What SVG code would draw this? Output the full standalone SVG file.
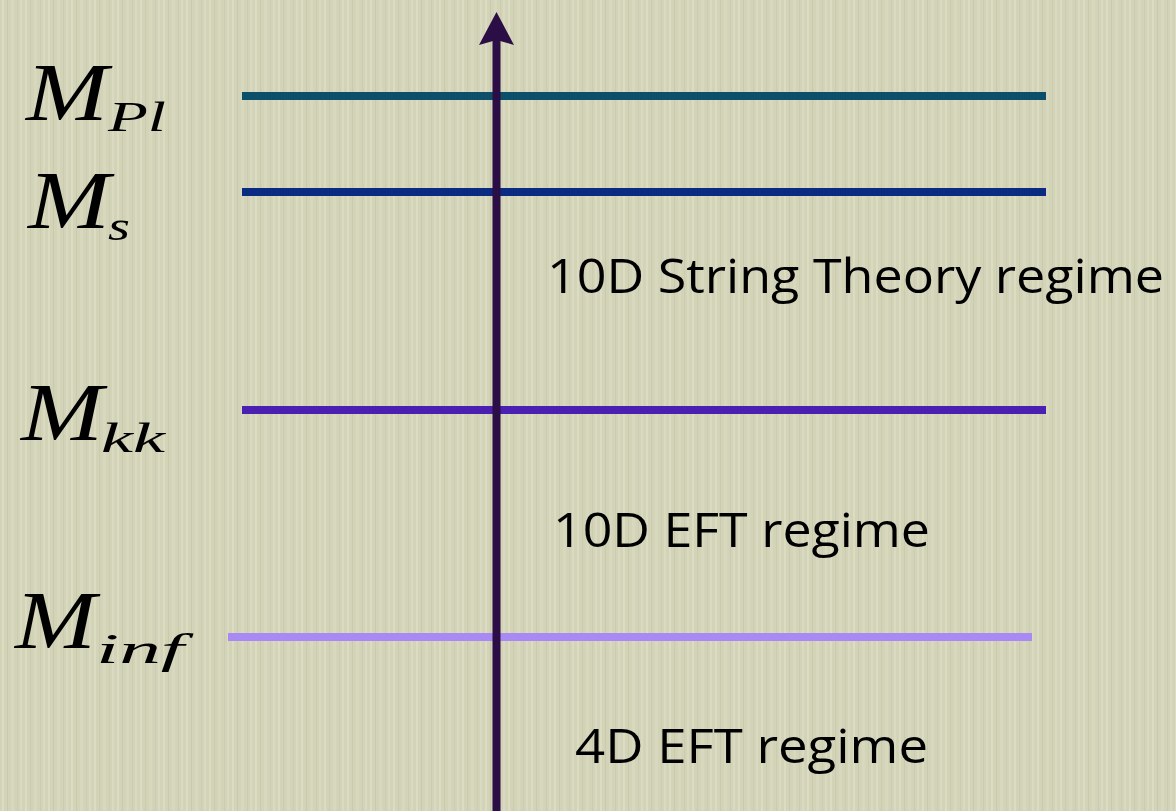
<svg xmlns="http://www.w3.org/2000/svg" width="1176" height="811" viewBox="0 0 1176 811">
  <defs>
    <pattern id="tex" x="0" y="0" width="23" height="811" patternUnits="userSpaceOnUse">
      <rect width="23" height="811" fill="#d3d3b8"/>
      <rect x="2" width="2" height="811" fill="#e0e0c8" opacity="0.7"/>
      <rect x="7" width="1" height="811" fill="#c4c4a8" opacity="0.6"/>
      <rect x="11" width="3" height="811" fill="#dcdcc3" opacity="0.6"/>
      <rect x="17" width="1" height="811" fill="#c6c6ab" opacity="0.5"/>
      <rect x="20" width="2" height="811" fill="#e2e2cb" opacity="0.5"/>
    </pattern>
    <style>
      .lvl { stroke-width: 8; fill: none; }
      .m { font-family: "Liberation Serif", "DejaVu Serif", serif; font-style: italic; fill: #000; }
      .big { font-size: 82px; }
      .sub { font-size: 42px; }
      .lab { font-family: "Open Sans", "Lato", sans-serif; font-size: 48px; fill: #000; }
    </style>
  </defs>
  <rect width="1176" height="811" fill="url(#tex)"/>

  <g id="level-Mpl">
    <line class="lvl" x1="242" y1="96" x2="1046" y2="96" stroke="#0b4f6a"/>
    <text class="m big" x="26" y="120" textLength="82" lengthAdjust="spacingAndGlyphs">M</text>
    <text class="m sub" x="108" y="131" textLength="58" lengthAdjust="spacingAndGlyphs">Pl</text>
  </g>
  <g id="level-Ms">
    <line class="lvl" x1="242" y1="192" x2="1046" y2="192" stroke="#0b2b82"/>
    <text class="m big" x="28" y="228" textLength="82" lengthAdjust="spacingAndGlyphs">M</text>
    <text class="m sub" x="108" y="240" textLength="22" lengthAdjust="spacingAndGlyphs">s</text>
  </g>
  <g id="level-Mkk">
    <line class="lvl" x1="242" y1="410" x2="1046" y2="410" stroke="#4a1fb2"/>
    <text class="m big" x="21" y="440" textLength="82" lengthAdjust="spacingAndGlyphs">M</text>
    <text class="m sub" x="101" y="452" textLength="64" lengthAdjust="spacingAndGlyphs">kk</text>
  </g>
  <g id="level-Minf">
    <line class="lvl" x1="228" y1="637" x2="1032" y2="637" stroke="#a98af4"/>
    <text class="m big" x="15" y="648" textLength="81" lengthAdjust="spacingAndGlyphs">M</text>
    <text class="m sub" x="96" y="663" textLength="88" lengthAdjust="spacingAndGlyphs">inf</text>
  </g>

  <g id="regime-string">
    <text class="lab" x="547" y="293" textLength="617" lengthAdjust="spacingAndGlyphs">10D String Theory regime</text>
  </g>
  <g id="regime-10d-eft">
    <text class="lab" x="553" y="547" textLength="377" lengthAdjust="spacingAndGlyphs">10D EFT regime</text>
  </g>
  <g id="regime-4d-eft">
    <text class="lab" x="575" y="763" textLength="353" lengthAdjust="spacingAndGlyphs">4D EFT regime</text>
  </g>

  <g id="connectors">
    <line x1="496.5" y1="811" x2="496.5" y2="36" stroke="#2b0e45" stroke-width="8"/>
    <path d="M496.5 12 L514 45 L496.5 40 L479 45 Z" fill="#2b0e45"/>
  </g>
</svg>
